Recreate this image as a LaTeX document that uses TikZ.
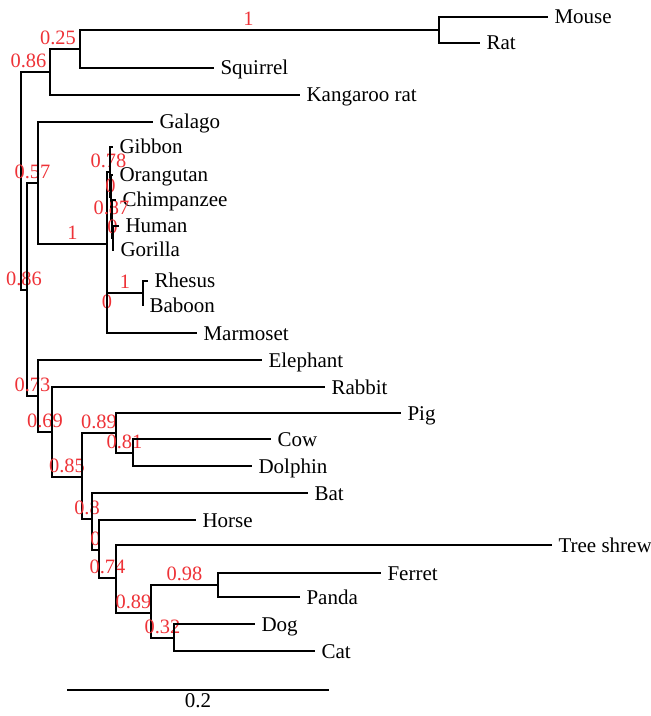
\documentclass[tikz,border=0pt]{standalone}
\usepackage{fontspec}
\setmainfont{Liberation Serif}
\definecolor{suppred}{RGB}{238,50,55}

\begin{document}
\begin{tikzpicture}[x=0.5pt, y=-0.5pt, line width=0.55pt,
    leaf/.style={anchor=west, inner xsep=3pt, text height=7pt, text depth=0pt, font=\fontsize{10.5}{12}\selectfont},
    lab/.style={pos=0.75, anchor=south, inner xsep=0pt, inner ysep=2pt, text=suppred, font=\fontsize{10.2}{12}\selectfont}]
      \useasboundingbox (0,0) rectangle (651,716);

      % Internal nodes
      \coordinate (root) at (21,181);
      \coordinate (rodA) at (50,72);
      \coordinate (rodB) at (80,49);
      \coordinate (murid) at (439,30);
      \coordinate (lower) at (27,290);
      \coordinate (prim) at (38,183);
      \coordinate (anth) at (107,244);
      \coordinate (ape) at (110,172);
      \coordinate (apeB) at (111,197);
      \coordinate (apeC) at (112,219);
      \coordinate (apeD) at (113,238);
      \coordinate (oldw) at (107,313);
      \coordinate (papio) at (143,293);
      \coordinate (laur) at (38,396);
      \coordinate (lauB) at (52,432);
      \coordinate (lauC) at (82,477);
      \coordinate (cetart) at (116,433);
      \coordinate (cowdol) at (133,453);
      \coordinate (lauD) at (92,519);
      \coordinate (lauE) at (99,550);
      \coordinate (lauF) at (116,578);
      \coordinate (carn) at (151,613);
      \coordinate (musbear) at (218,585);
      \coordinate (feli) at (174,638);

      % Leaves
      \node[leaf] (Mouse) at (548,17) {Mouse};
      \node[leaf] (Rat) at (480,43) {Rat};
      \node[leaf] (Squirrel) at (214,68) {Squirrel};
      \node[leaf] (KangarooRat) at (300,95) {Kangaroo rat};
      \node[leaf] (Galago) at (153,122) {Galago};
      \node[leaf] (Gibbon) at (113,147) {Gibbon};
      \node[leaf] (Orangutan) at (113,175) {Orangutan};
      \node[leaf] (Chimpanzee) at (116,200) {Chimpanzee};
      \node[leaf] (Human) at (119,226) {Human};
      \node[leaf] (Gorilla) at (114,250) {Gorilla};
      \node[leaf] (Rhesus) at (148,281) {Rhesus};
      \node[leaf] (Baboon) at (143,306) {Baboon};
      \node[leaf] (Marmoset) at (197,333) {Marmoset};
      \node[leaf] (Elephant) at (262,360) {Elephant};
      \node[leaf] (Rabbit) at (325,387) {Rabbit};
      \node[leaf] (Pig) at (401,413) {Pig};
      \node[leaf] (Cow) at (271,439) {Cow};
      \node[leaf] (Dolphin) at (252,466) {Dolphin};
      \node[leaf] (Bat) at (308,493) {Bat};
      \node[leaf] (Horse) at (196,520) {Horse};
      \node[leaf] (TreeShrew) at (552,545) {Tree shrew};
      \node[leaf] (Ferret) at (381,573) {Ferret};
      \node[leaf] (Panda) at (300,597) {Panda};
      \node[leaf] (Dog) at (255,624) {Dog};
      \node[leaf] (Cat) at (315,651) {Cat};

      % Rodents
      \draw (root) |- node[lab, xshift=-3.5pt] {0.86} (rodA);
      \draw (rodA) |- node[lab, xshift=-3.5pt] {0.25} (rodB);
      \draw (rodA) |- (KangarooRat.west);
      \draw (rodB) |- node[lab, xshift=-5.5pt] {1} (murid);
      \draw (rodB) |- (Squirrel.west);
      \draw (murid) |- (Mouse.west);
      \draw (murid) |- (Rat.west);

      % Primates
      \draw (root) |- node[lab] {0.86} (lower);
      \draw (lower) |- node[lab] {0.57} (prim);
      \draw (prim) |- (Galago.west);
      \draw (prim) |- node[lab] {1} (anth);
      \draw (anth) |- node[lab] {0.78} (ape);
      \draw (anth) |- node[lab] {0} (oldw);
      \draw (ape) |- (Gibbon.west);
      \draw (ape) |- node[lab] {0} (apeB);
      \draw (apeB) |- (Orangutan.west);
      \draw (apeB) |- node[lab] {0.87} (apeC);
      \draw (apeC) |- (Chimpanzee.west);
      \draw (apeC) |- node[lab] {0} (apeD);
      \draw (apeD) |- (Human.west);
      \draw (apeD) |- (Gorilla.west);
      \draw (oldw) |- node[lab] {1} (papio);
      \draw (oldw) |- (Marmoset.west);
      \draw (papio) |- (Rhesus.west);
      \draw (papio) |- (Baboon.west);

      % Laurasiatheria and the rest
      \draw (lower) |- node[lab] {0.73} (laur);
      \draw (laur) |- (Elephant.west);
      \draw (laur) |- node[lab] {0.69} (lauB);
      \draw (lauB) |- (Rabbit.west);
      \draw (lauB) |- node[lab] {0.85} (lauC);
      \draw (lauC) |- node[lab] {0.89} (cetart);
      \draw (lauC) |- node[lab] {0.8} (lauD);
      \draw (cetart) |- (Pig.west);
      \draw (cetart) |- node[lab] {0.81} (cowdol);
      \draw (cowdol) |- (Cow.west);
      \draw (cowdol) |- (Dolphin.west);
      \draw (lauD) |- (Bat.west);
      \draw (lauD) |- node[lab] {0} (lauE);
      \draw (lauE) |- (Horse.west);
      \draw (lauE) |- node[lab] {0.74} (lauF);
      \draw (lauF) |- (TreeShrew.west);
      \draw (lauF) |- node[lab] {0.89} (carn);
      \draw (carn) |- node[lab] {0.98} (musbear);
      \draw (carn) |- node[lab] {0.32} (feli);
      \draw (musbear) |- (Ferret.west);
      \draw (musbear) |- (Panda.west);
      \draw (feli) |- (Dog.west);
      \draw (feli) |- (Cat.west);

      % Scale bar
      \coordinate (barL) at (67,690);
      \coordinate (barR) at (329,690);
      \draw[line width=0.8pt] (barL) -- node[below=0.5pt, inner ysep=1pt, font=\fontsize{10.5}{12}\selectfont] (barlab) {0.2} (barR);
    \end{tikzpicture}
\end{document}
